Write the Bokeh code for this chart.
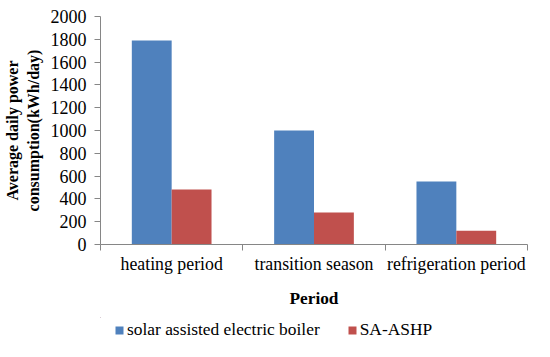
from bokeh.plotting import figure
from bokeh.layouts import column
from bokeh.models import (ColumnDataSource, Range1d, FixedTicker, LinearAxis,
                          Legend, LegendItem)
from bokeh.transform import dodge
from bokeh.embed import file_html
from bokeh.resources import INLINE

categories = ["heating period", "transition season", "refrigeration period"]
series_names = ["solar assisted electric boiler", "SA-ASHP"]
boiler = [1790, 1000, 552]
ashp = [483, 280, 120]
y_ticks = [0, 200, 400, 600, 800, 1000, 1200, 1400, 1600, 1800, 2000]

BLUE = "#4F81BD"
RED = "#C0504D"
AXIS = "#868686"
FONT = "Liberation Serif"

pos = [i + 0.5 for i in range(len(categories))]
src = ColumnDataSource(dict(x=pos, boiler=boiler, ashp=ashp, cat=categories))

p = figure(width=534, height=317, output_backend="svg", toolbar_location=None,
           x_range=Range1d(0, len(categories)), y_range=Range1d(0, 2000),
           x_axis_type=None, y_axis_type=None,
           min_border_left=100, min_border_right=7, min_border_top=16,
           min_border_bottom=73)
p.outline_line_color = None
p.xgrid.visible = False
p.ygrid.visible = False

p.vbar(x=dodge("x", -0.14, range=p.x_range), top="boiler", width=0.28,
       source=src, fill_color=BLUE, line_color=None)
p.vbar(x=dodge("x", 0.14, range=p.x_range), top="ashp", width=0.28,
       source=src, fill_color=RED, line_color=None)

yaxis = LinearAxis(ticker=FixedTicker(ticks=y_ticks),
                   axis_label="Average daily power\nconsumption(kWh/day)")
yaxis.axis_line_color = AXIS
yaxis.major_tick_line_color = AXIS
yaxis.major_tick_out = 6
yaxis.major_tick_in = 0
yaxis.minor_tick_line_color = None
yaxis.major_label_text_font = FONT
yaxis.major_label_text_font_size = "18px"
yaxis.major_label_text_color = "black"
yaxis.major_label_standoff = 8
yaxis.axis_label_text_font = FONT
yaxis.axis_label_text_font_size = "16px"
yaxis.axis_label_text_font_style = "bold"
yaxis.axis_label_text_color = "black"
yaxis.axis_label_standoff = 6
p.add_layout(yaxis, "left")

xaxis = LinearAxis(ticker=FixedTicker(ticks=pos, minor_ticks=list(range(len(categories) + 1))),
                   axis_label="Period")
xaxis.major_label_overrides = {pv: c for pv, c in zip(pos, categories)}
xaxis.axis_line_color = AXIS
xaxis.major_tick_line_color = None
xaxis.minor_tick_line_color = AXIS
xaxis.minor_tick_out = 6
xaxis.minor_tick_in = 0
xaxis.major_label_text_font = FONT
xaxis.major_label_text_font_size = "17.8px"
xaxis.major_label_text_color = "black"
xaxis.major_label_standoff = 3
xaxis.axis_label_text_font = FONT
xaxis.axis_label_text_font_size = "17.3px"
xaxis.axis_label_text_font_style = "bold"
xaxis.axis_label_text_color = "black"
xaxis.axis_label_standoff = 12
p.add_layout(xaxis, "below")

# legend strip below the chart (its frame is aligned with the chart's frame);
# the series bars here lie far outside its view, only the legend shows
lg = figure(width=534, height=24, output_backend="svg", toolbar_location=None,
            x_range=Range1d(100, 103), y_range=Range1d(-5000, -4000),
            x_axis_type=None, y_axis_type=None,
            min_border_left=0, min_border_right=0, min_border_top=0, min_border_bottom=0)
lg.outline_line_color = None
lg.xgrid.visible = False
lg.ygrid.visible = False
d1 = lg.vbar(x="x", top="boiler", width=0.28, source=src, fill_color=BLUE, line_color=None)
d2 = lg.vbar(x="x", top="ashp", width=0.28, source=src, fill_color=RED, line_color=None)
legend = Legend(items=[LegendItem(label=series_names[0], renderers=[d1]),
                       LegendItem(label=series_names[1], renderers=[d2])],
                orientation="horizontal", location=(14, 1),
                label_text_font=FONT, label_text_font_size="17.4px",
                label_text_color="black",
                glyph_width=10, glyph_height=10, label_standoff=3, label_height=18,
                spacing=27, border_line_color=None, padding=0, margin=0,
                background_fill_alpha=0)
lg.add_layout(legend, "center")

layout = column(p, lg, spacing=0)
open("out.html", "w").write(file_html(layout, INLINE))
